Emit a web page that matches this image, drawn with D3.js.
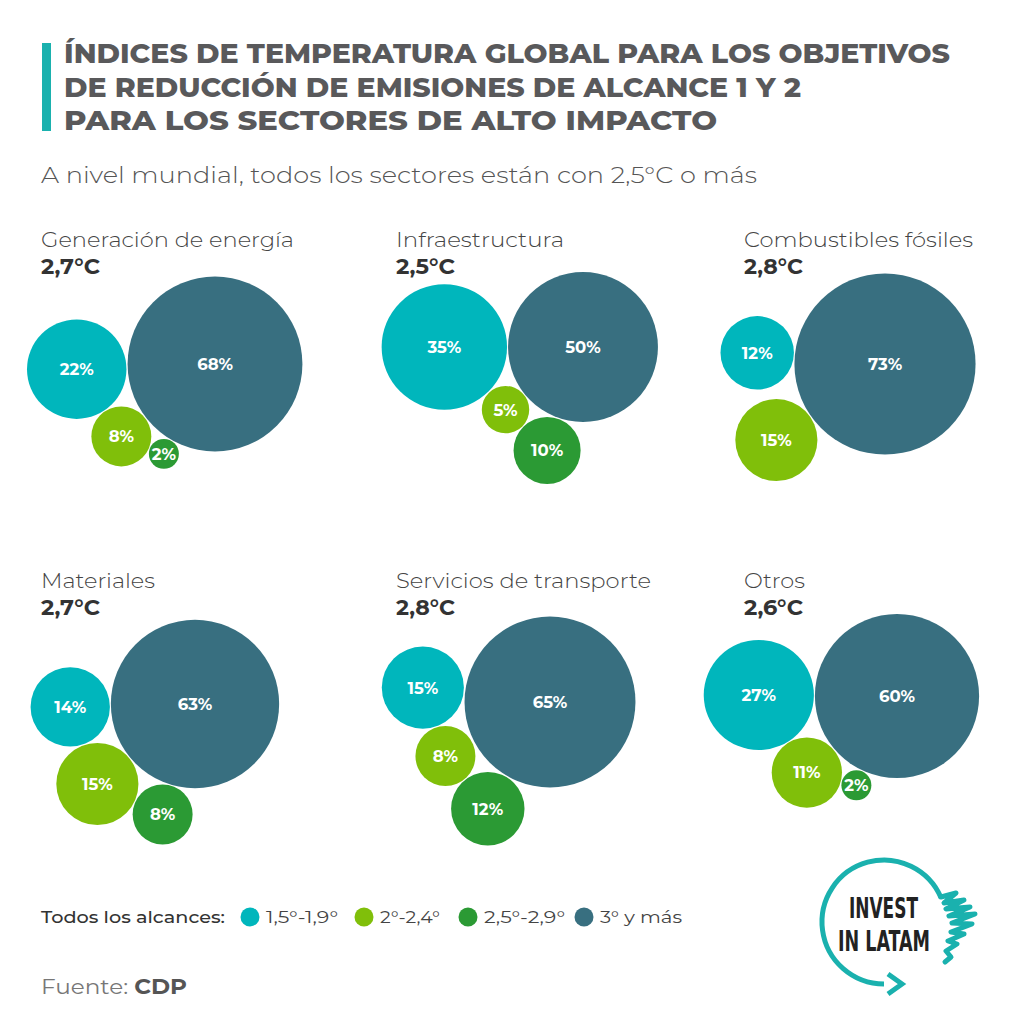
<!DOCTYPE html>
<html><head><meta charset="utf-8">
<script src="https://cdn.jsdelivr.net/npm/d3@7"></script>
<style>
html,body{margin:0;padding:0;background:#fff;}
svg{display:block;font-family:"Montserrat","Open Sans","Noto Sans",sans-serif;}
</style></head>
<body>
<svg id="chart" width="1024" height="1024"></svg>
<script>
// ---------------- DATA ----------------
const titleLines = ["ÍNDICES DE TEMPERATURA GLOBAL PARA LOS OBJETIVOS",
                    "DE REDUCCIÓN DE EMISIONES DE ALCANCE 1 Y 2",
                    "PARA LOS SECTORES DE ALTO IMPACTO"];
const subtitle = "A nivel mundial, todos los sectores están con 2,5°C o más";
const sectors = ["Generación de energía","Infraestructura","Combustibles fósiles",
                 "Materiales","Servicios de transporte","Otros"];
const sectorTemps = ["2,7°C","2,5°C","2,8°C","2,7°C","2,8°C","2,6°C"];
const ranges = ["1,5°-1,9°","2°-2,4°","2,5°-2,9°","3° y más"];
const share15to19 = [22,35,12,14,15,27];
const share20to24 = [8,5,15,15,8,11];
const share25to29 = [2,10,0,8,12,2];
const share30plus = [68,50,73,63,65,60];
const legendTitle = "Todos los alcances:";
const sourceLabel = "Fuente: ";
const sourceName = "CDP";

// ---------------- LAYOUT / STYLE ----------------
const colors = ["#00b6bc","#80bf0a","#2b9a34","#386f80"];
const colX = [41,396,744], rowY = [247,588];
const titleWidths = [253,168,229,114,255,61];
const bigOffset = [[174,117],[187,100],[141,117],[154,116],[154,114],[153,108]];
const attachAngles = [[177,145,122],[180,139,110],[185,145,0],[178,141,107],[185,153,122],[180,141,115]];

const svg = d3.select("#chart");
const r = d3.scaleSqrt().domain([0,100]).range([0,106]);
const color = d3.scaleOrdinal().domain(ranges).range(colors);

// Title
svg.append("rect").attr("x",42).attr("y",43).attr("width",9).attr("height",88).attr("fill","#1ab1ae");
const tW = [886,737,653], tY = [63,97,130];
titleLines.forEach((t,i)=>{
  svg.append("text").attr("x",64).attr("y",tY[i]).text(t)
    .attr("font-size",27).attr("font-weight",800).attr("fill","#59595b")
    .attr("textLength",tW[i]).attr("lengthAdjust","spacingAndGlyphs");
});
svg.append("text").attr("x",41).attr("y",183).text(subtitle)
  .attr("font-size",22).attr("font-weight",300).attr("fill","#555")
  .attr("textLength",716).attr("lengthAdjust","spacingAndGlyphs");

// Panels
const seriesList = [share15to19, share20to24, share25to29, share30plus];
sectors.forEach((name,i)=>{
  const px = colX[i%3], py = rowY[Math.floor(i/3)];
  const g = svg.append("g");
  g.append("text").attr("x",px).attr("y",py).text(name)
    .attr("font-size",21).attr("font-weight",300).attr("fill","#444")
    .attr("textLength",titleWidths[i]).attr("lengthAdjust","spacingAndGlyphs");
  g.append("text").attr("x",px).attr("y",py+27).text(sectorTemps[i])
    .attr("font-size",21).attr("font-weight",700).attr("fill","#333")
    .attr("textLength",59).attr("lengthAdjust","spacingAndGlyphs");

  const bigVal = share30plus[i];
  const bx = px + bigOffset[i][0], by = py + bigOffset[i][1];
  const nodes = [{k:3, v:bigVal, r:r(bigVal), x:bx, y:by, fx:bx, fy:by}];
  [0,1,2].forEach(k=>{
    const v = seriesList[k][i];
    if(!v) return;
    const a = attachAngles[i][k]*Math.PI/180;
    const d = r(bigVal)+r(v);
    const tx = bx + d*Math.cos(a), ty = by + d*Math.sin(a);
    nodes.push({k, v, r:r(v), x:tx, y:ty, tx, ty});
  });
  const sim = d3.forceSimulation(nodes)
    .force("collide", d3.forceCollide(d=>d.r+0.5).iterations(4))
    .force("x", d3.forceX(d=>d.tx===undefined?d.x:d.tx).strength(0.08))
    .force("y", d3.forceY(d=>d.ty===undefined?d.y:d.ty).strength(0.08))
    .stop();
  for(let t=0;t<300;t++) sim.tick();

  const bub = g.selectAll("g.b").data(nodes).join("g").attr("class","b")
    .attr("transform",d=>`translate(${d.x},${d.y})`);
  bub.append("circle").attr("r",d=>d.r).attr("fill",d=>color(ranges[d.k]));
  bub.append("text").text(d=>d.v+"%").attr("text-anchor","middle").attr("dy","0.36em")
    .attr("font-size",16.5).attr("font-weight",700).attr("fill","#fff");
});

// Legend
svg.append("text").attr("x",41).attr("y",923).text(legendTitle)
  .attr("font-size",16).attr("font-weight",500).attr("fill","#333")
  .attr("textLength",184).attr("lengthAdjust","spacingAndGlyphs");
const legX = [250,364,468,584], legW = [72,60,81,82];
ranges.forEach((lab,i)=>{
  svg.append("circle").attr("cx",legX[i]).attr("cy",917).attr("r",9.5).attr("fill",color(lab));
  svg.append("text").attr("x",legX[i]+16).attr("y",923).text(lab)
    .attr("font-size",16).attr("font-weight",400).attr("fill","#444")
    .attr("textLength",legW[i]).attr("lengthAdjust","spacingAndGlyphs");
});

// Source
const src = svg.append("text").attr("x",41).attr("y",994).attr("font-size",21).attr("fill","#777")
  .attr("textLength",146).attr("lengthAdjust","spacingAndGlyphs");
src.append("tspan").text(sourceLabel).attr("font-weight",400);
src.append("tspan").text(sourceName).attr("font-weight",700).attr("fill","#555");

// Logo
const lg = svg.append("g");
const cx=884, cy=922, R=62;
const arc = d3.path();
arc.arc(cx,cy,R,-23*Math.PI/180,90*Math.PI/180,true);
lg.append("path").attr("d",arc.toString()).attr("fill","none").attr("stroke","#1ab1ae").attr("stroke-width",5);
lg.append("path").attr("d",`M${cx+4},${cy+R-10} L${cx+18},${cy+R} L${cx+4},${cy+R+10}`)
  .attr("fill","none").attr("stroke","#1ab1ae").attr("stroke-width",5).attr("stroke-linejoin","miter");
lg.append("path").attr("d","M941,897 L956,893 L944,903 L964,900 L946,909 L970,907 L949,916 L975,914 L952,923 L972,924 L951,932 L964,934 L948,941 L957,944 L946,951 L951,957 L945,962")
  .attr("fill","none").attr("stroke","#1ab1ae").attr("stroke-width",5).attr("stroke-linejoin","round").attr("stroke-linecap","round");
lg.append("text").attr("x",849).attr("y",918).text("INVEST")
  .attr("font-family","'Liberation Sans Narrow','DejaVu Sans Condensed',sans-serif")
  .attr("font-size",29).attr("font-weight",700).attr("fill","#222")
  .attr("textLength",69).attr("lengthAdjust","spacingAndGlyphs");
lg.append("text").attr("x",838).attr("y",951).text("IN LATAM")
  .attr("font-family","'Liberation Sans Narrow','DejaVu Sans Condensed',sans-serif")
  .attr("font-size",29).attr("font-weight",700).attr("fill","#222")
  .attr("textLength",92).attr("lengthAdjust","spacingAndGlyphs");
</script>
</body></html>
